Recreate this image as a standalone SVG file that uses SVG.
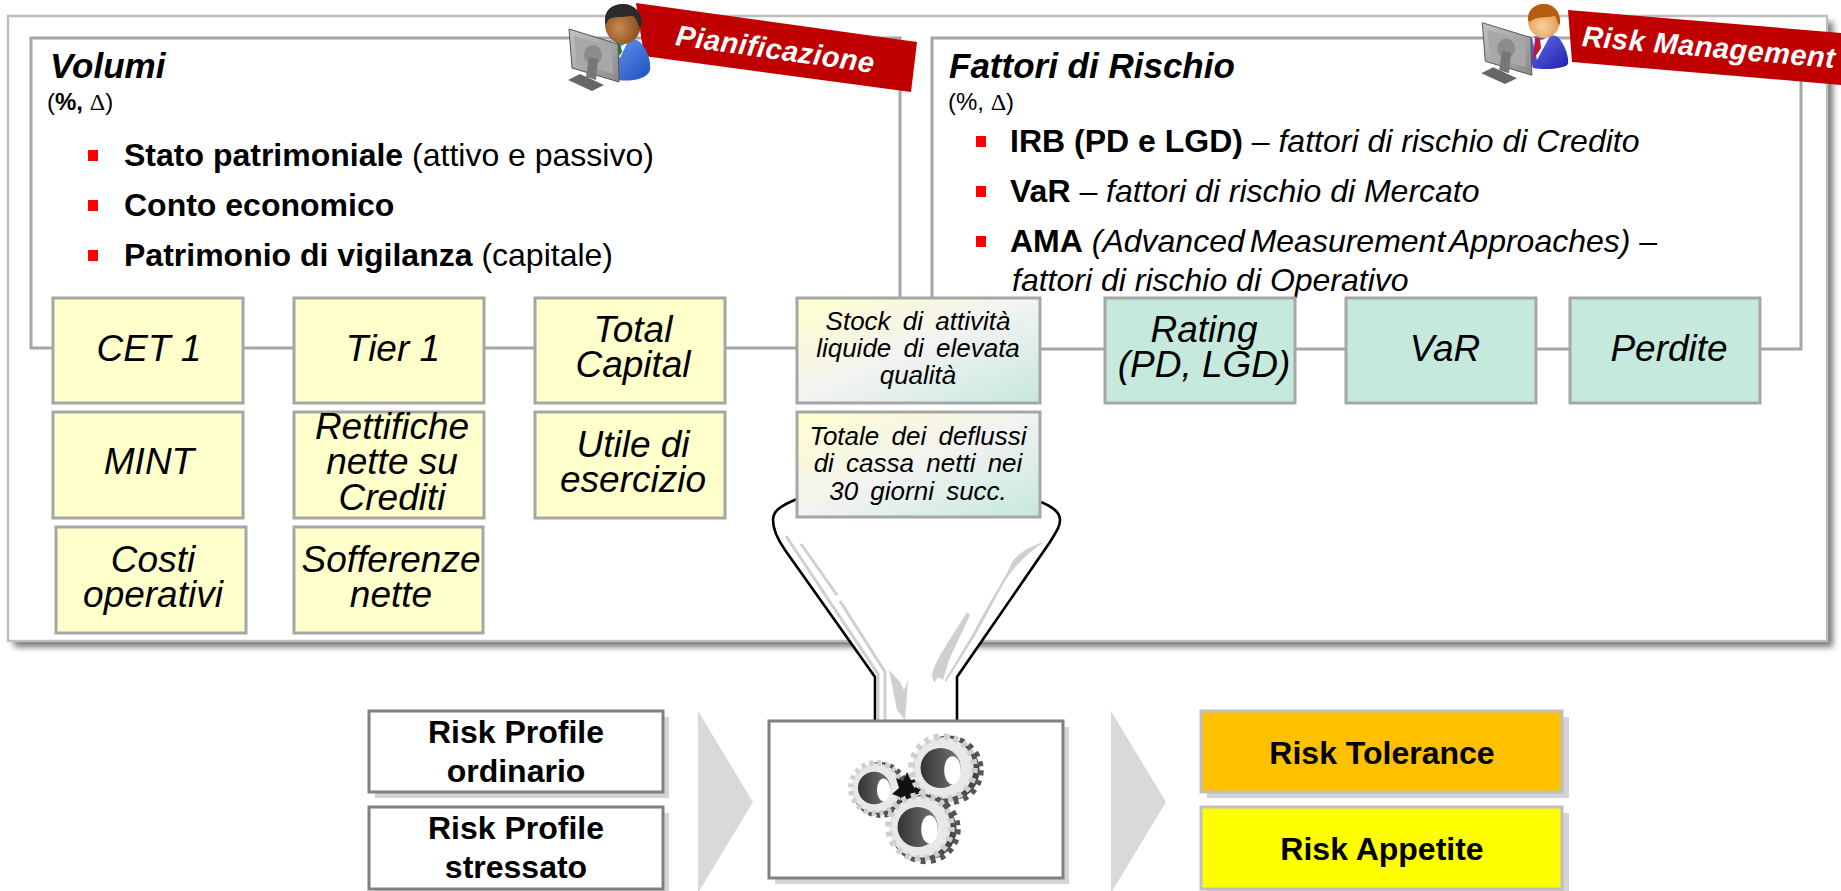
<svg xmlns="http://www.w3.org/2000/svg" xmlns:xlink="http://www.w3.org/1999/xlink" width="1841" height="891" viewBox="0 0 1841 891">
<style>
text{font-family:"Liberation Sans",Arial,sans-serif;fill:#000}
.panel{fill:#fff;stroke:#a6a6a6;stroke-width:3}
.y{fill:#ffffcc;stroke:#a6a6a6;stroke-width:3}
.g{fill:#c5e9dc;stroke:#a6a6a6;stroke-width:3}
.m{fill:url(#mix);stroke:#a6a6a6;stroke-width:3}
.bt{font-size:37px;font-style:italic;text-anchor:middle}
.st{font-size:26px;font-style:italic;text-anchor:middle;word-spacing:5px}
.h{font-size:35px;font-weight:bold;font-style:italic}
.sub{font-size:24px}
.tx{font-size:32px}
.b{font-weight:bold}
.i{font-style:italic}
.bul{fill:#ff0000}
.wb{fill:#fff;stroke:#808080;stroke-width:3}
.sh{fill:#d4d4d4}
.bb{font-size:32px;font-weight:bold;text-anchor:middle}
.chev{fill:#d9d9d9}
.rib{fill:#c00000}
.rt{font-size:29px;font-weight:bold;font-style:italic;fill:#fff;text-anchor:middle;letter-spacing:0.5px}
.gl{fill:none;stroke:#cfcfcf;stroke-width:3}
</style>
<defs>
<linearGradient id="mix" x1="0" y1="0" x2="1" y2="1">
<stop offset="0" stop-color="#ffffcc"/><stop offset="0.5" stop-color="#f2f2f2"/><stop offset="1" stop-color="#c5e9dc"/>
</linearGradient>
<filter id="blur" x="-5%" y="-5%" width="110%" height="110%"><feGaussianBlur stdDeviation="3"/></filter>
<radialGradient id="face1" cx="0.4" cy="0.6" r="0.7"><stop offset="0" stop-color="#c98a50"/><stop offset="1" stop-color="#7a3e12"/></radialGradient>
<radialGradient id="face2" cx="0.45" cy="0.65" r="0.7"><stop offset="0" stop-color="#fbd0a0"/><stop offset="1" stop-color="#d98a3a"/></radialGradient>
<linearGradient id="blue1" x1="0" y1="0" x2="1" y2="1"><stop offset="0" stop-color="#6f9cf0"/><stop offset="1" stop-color="#1c50c0"/></linearGradient>
<linearGradient id="blue2" x1="0" y1="0" x2="1" y2="1"><stop offset="0" stop-color="#6a72e8"/><stop offset="1" stop-color="#1d20b0"/></linearGradient>
<linearGradient id="mon" x1="0" y1="0" x2="1" y2="1"><stop offset="0" stop-color="#c4c4c4"/><stop offset="1" stop-color="#8a8a8a"/></linearGradient>
<linearGradient id="hole" x1="0" y1="0" x2="1" y2="0"><stop offset="0" stop-color="#333"/><stop offset="1" stop-color="#777"/></linearGradient>
<g id="monitor">
<path d="M568 80L580 74L604 85L592 91Z" fill="#666"/>
<path d="M569 29L618 44L619 82L572 68Z" fill="url(#mon)" stroke="#555" stroke-width="1"/>
<path d="M574 36L612 47L613 74L577 63Z" fill="#a8a8a8"/>
<ellipse cx="593" cy="55" rx="9" ry="10" fill="#8c8c8c"/>
<path d="M589 57L598 59L596 80L586 77Z" fill="#777"/>
</g>
<g id="gear">
<circle cx="5" cy="2" r="26" fill="#444" stroke="#555" stroke-width="7" stroke-dasharray="4 4.2"/>
<circle r="26" fill="#e6e6e6" stroke="#cfcfcf" stroke-width="7" stroke-dasharray="4 4.2"/>
<circle r="24" fill="#e8e8e8"/>
<circle cx="-2" r="17" fill="url(#hole)"/>
<ellipse cx="8" cy="2" rx="7" ry="12" fill="#fff"/>
</g>
</defs>
<rect width="1841" height="891" fill="#fff"/>

<g id="outer-panel">
<rect x="14" y="22" width="1819" height="625" fill="#777" filter="url(#blur)"/>
<rect x="8" y="16" width="1819" height="625" fill="#fff" stroke="#bfbfbf" stroke-width="2.5"/>
</g>

<g id="connectors">
<rect class="panel" x="31" y="38" width="869" height="310"/>
<rect class="panel" x="932" y="38" width="869" height="311"/>
</g>

<g id="funnel">
<path d="M797 499C780 506 773 511 773 520C773 530 778 540 785 550L875 677V720H957V677L1050 542C1056 532 1060 527 1060 520C1060 511 1050 506 1041 502Z" fill="#fff"/>
<path d="M797 499C780 506 773 511 773 520C773 530 778 540 785 550L875 677V720M1041 502C1050 506 1060 511 1060 520C1060 527 1056 532 1050 542L957 677V720" fill="none" stroke="#000" stroke-width="2.6"/>
<path class="gl" d="M786 536L878 674V720M801 544L837 595M840 601L885 672V720"/>
<path d="M1044 542C1030 546 1020 552 1012 562C1005 580 990 600 975 630L945 680L946 682L975 636L1000 590C1010 570 1025 555 1044 542Z M967 612C950 640 935 660 932 675L934 683L938 677L943 680L949 660L970 615Z" fill="#cfcfcf"/>
<path d="M889 670L897 710L905 720L908 680L904 690L900 682Z" fill="#cfcfcf"/>
</g>

<g id="ribbon-pianificazione">
<polygon class="rib" points="636,3 917,42 911,92 644,56"/>
<text class="rt" transform="translate(774 59) rotate(8)">Pianificazione</text>
</g>
<g id="user-pianificazione">
<path d="M607 42C615 36 632 36 640 42C648 50 651 62 650 70C648 79 630 82 618 80L605 60Z" fill="url(#blue1)"/>
<path d="M611 40L622 46L628 41L620 58Z" fill="#fff"/>
<path d="M617 42L620 42L622 52L619 56Z" fill="#1a7a30"/>
<ellipse cx="623" cy="24" rx="18" ry="20" fill="url(#face1)"/>
<path d="M605 22C604 10 612 4 623 4C634 4 642 12 642 24C641 29 640 29 638 24C636 18 634 15 630 16C620 18 612 16 608 20C606 24 606 26 605 22Z" fill="#2b2b2b"/>
<use xlink:href="#monitor" href="#monitor"/>
</g>

<g id="ribbon-risk-management">
<polygon class="rib" points="1568,10 1841,33 1841,85 1572,62"/>
<text class="rt" transform="translate(1708 57) rotate(5)">Risk Management</text>
</g>
<g id="user-risk-management">
<path d="M1531 38C1538 34 1552 34 1558 37C1566 46 1569 58 1568 64C1564 69 1545 70 1533 68L1528 50Z" fill="url(#blue2)"/>
<path d="M1532 37L1542 40L1550 36L1537 60Z" fill="#fff"/>
<path d="M1535 38L1540 38L1541 48L1533 60Z" fill="#c01a30"/>
<ellipse cx="1544" cy="21" rx="16" ry="17" fill="url(#face2)"/>
<path d="M1528 20C1527 10 1535 4 1544 4C1553 4 1561 11 1560 24C1558 26 1557 20 1555 16C1548 18 1535 16 1530 22Z" fill="#b85c10"/>
<use xlink:href="#monitor" href="#monitor" transform="translate(919 -6) scale(0.99)" x="0"/>
</g>

<g id="volumi-text">
<text class="h" x="50" y="78">Volumi</text>
<text class="sub" x="47" y="110">(<tspan class="b">%,</tspan> <tspan font-family="Liberation Serif">Δ</tspan>)</text>
<rect class="bul" x="88" y="150" width="10" height="11"/>
<text class="tx" x="124" y="166"><tspan class="b">Stato patrimoniale</tspan> (attivo e passivo)</text>
<rect class="bul" x="88" y="200" width="10" height="11"/>
<text class="tx b" x="124" y="216">Conto economico</text>
<rect class="bul" x="88" y="250" width="10" height="11"/>
<text class="tx" x="124" y="266"><tspan class="b">Patrimonio di vigilanza</tspan> (capitale)</text>
</g>

<g id="fattori-text">
<text class="h" x="949" y="78">Fattori di Rischio</text>
<text class="sub" x="948" y="110">(%, <tspan font-family="Liberation Serif">Δ</tspan>)</text>
<rect class="bul" x="976" y="136" width="10" height="11"/>
<text class="tx" x="1010" y="152"><tspan class="b">IRB (PD e LGD)</tspan> – <tspan class="i">fattori di rischio di Credito</tspan></text>
<rect class="bul" x="976" y="186" width="10" height="11"/>
<text class="tx" x="1010" y="202"><tspan class="b">VaR</tspan> – <tspan class="i">fattori di rischio di Mercato</tspan></text>
<rect class="bul" x="976" y="236" width="10" height="11"/>
<text class="tx" x="1010" y="252"><tspan class="b">AMA</tspan>  <tspan class="i" word-spacing="-4">(Advanced Measurement Approaches)</tspan> –</text>
<text class="tx i" x="1012" y="291">fattori di rischio di Operativo</text>
</g>

<g id="node-cet1"><rect class="y" x="53" y="298" width="190" height="105"/><text class="bt" x="149" y="361">CET 1</text></g>
<g id="node-tier1"><rect class="y" x="294" y="298" width="190" height="105"/><text class="bt" x="393" y="361">Tier 1</text></g>
<g id="node-total-capital"><rect class="y" x="535" y="298" width="190" height="105"/><text class="bt" x="633" y="342">Total</text><text class="bt" x="633" y="377">Capital</text></g>
<g id="node-stock"><rect class="m" x="797" y="298" width="243" height="105"/><text class="st" x="918" y="330">Stock di attività</text><text class="st" x="918" y="357">liquide di elevata</text><text class="st" x="918" y="384">qualità</text></g>
<g id="node-rating"><rect class="g" x="1105" y="298" width="190" height="105"/><text class="bt" x="1204" y="342">Rating</text><text class="bt" x="1204" y="377">(PD, LGD)</text></g>
<g id="node-var"><rect class="g" x="1346" y="298" width="190" height="105"/><text class="bt" x="1445" y="361">VaR</text></g>
<g id="node-perdite"><rect class="g" x="1570" y="298" width="190" height="105"/><text class="bt" x="1669" y="361">Perdite</text></g>

<g id="node-mint"><rect class="y" x="53" y="412" width="190" height="106"/><text class="bt" x="149" y="474">MINT</text></g>
<g id="node-rettifiche"><rect class="y" x="294" y="412" width="190" height="106"/><text class="bt" x="392" y="439">Rettifiche</text><text class="bt" x="392" y="474">nette su</text><text class="bt" x="392" y="510">Crediti</text></g>
<g id="node-utile"><rect class="y" x="535" y="412" width="190" height="106"/><text class="bt" x="633" y="457">Utile di</text><text class="bt" x="633" y="492">esercizio</text></g>
<g id="node-deflussi"><rect class="m" x="797" y="412" width="243" height="105"/><text class="st" x="918" y="445">Totale dei deflussi</text><text class="st" x="918" y="472">di cassa netti nei</text><text class="st" x="918" y="500">30 giorni succ.</text></g>
<g id="node-costi"><rect class="y" x="56" y="527" width="190" height="106"/><text class="bt" x="153" y="572">Costi</text><text class="bt" x="153" y="607">operativi</text></g>
<g id="node-sofferenze"><rect class="y" x="294" y="527" width="189" height="106"/><text class="bt" x="391" y="572">Sofferenze</text><text class="bt" x="391" y="607">nette</text></g>

<g id="node-profile-ordinario"><rect class="sh" x="375" y="717" width="294" height="81"/><rect class="wb" x="369" y="711" width="294" height="81"/><text class="bb" x="516" y="743">Risk Profile</text><text class="bb" x="516" y="782">ordinario</text></g>
<g id="node-profile-stressato"><rect class="sh" x="375" y="813" width="294" height="82"/><rect class="wb" x="369" y="807" width="294" height="82"/><text class="bb" x="516" y="839">Risk Profile</text><text class="bb" x="516" y="878">stressato</text></g>
<polygon id="chevron-left" class="chev" points="698,711 753,802 698,893"/>

<g id="node-engine">
<rect class="sh" x="775" y="727" width="294" height="157"/>
<rect class="wb" x="769" y="721" width="294" height="157"/>
<use xlink:href="#gear" href="#gear" transform="translate(876 788) scale(0.95)"/>
<path d="M907 772L911 780L920 778L916 787L924 792L915 795L916 804L908 800L902 806L900 797L892 794L899 788L896 778L903 781Z" fill="#111"/>
<use xlink:href="#gear" href="#gear" transform="translate(943 768) scale(1.18)"/>
<use xlink:href="#gear" href="#gear" transform="translate(920 827) scale(1.18)"/>
</g>

<polygon id="chevron-right" class="chev" points="1111,711 1166,802 1111,893"/>
<g id="node-tolerance"><rect class="sh" x="1207" y="717" width="362" height="81"/><rect x="1201" y="711" width="361" height="81" fill="#ffc000" stroke="#bfbfbf" stroke-width="3"/><text class="bb" x="1382" y="764">Risk Tolerance</text></g>
<g id="node-appetite"><rect class="sh" x="1207" y="813" width="362" height="82"/><rect x="1201" y="807" width="361" height="82" fill="#ffff00" stroke="#bfbfbf" stroke-width="3"/><text class="bb" x="1382" y="860">Risk Appetite</text></g>
</svg>
